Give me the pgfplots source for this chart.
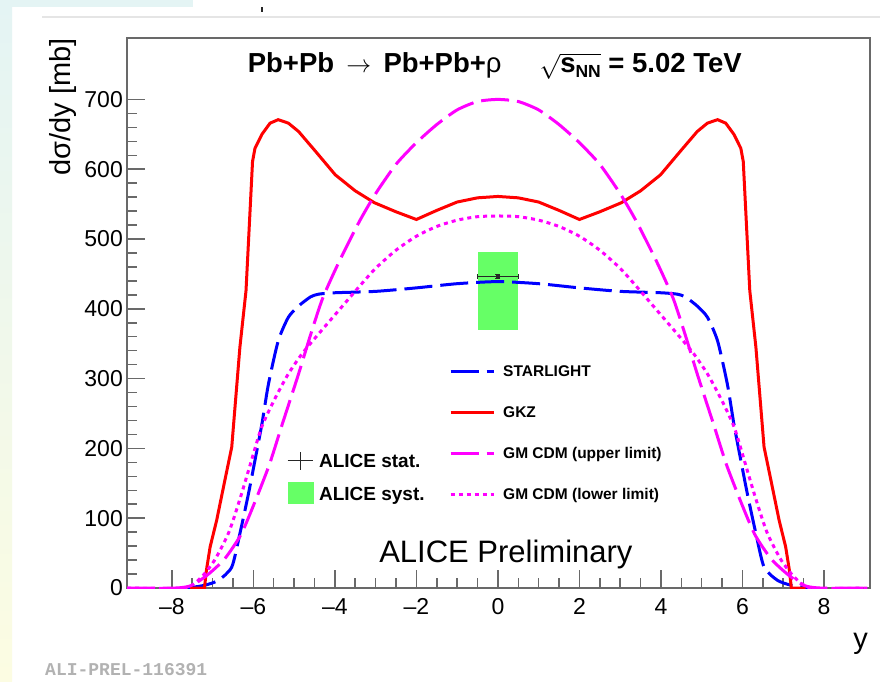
\documentclass[border=0pt]{standalone}
\usepackage{pgfplots}
\usepackage{pgfplotstable}
\pgfplotsset{compat=1.18}
\usepackage{fontspec}
\setmainfont{Liberation Sans}
\newfontfamily\monofont{Liberation Mono}
\definecolor{alicegreen}{RGB}{102,255,102}
\definecolor{framegray}{RGB}{105,105,105}
\definecolor{rblue}{RGB}{0,0,255}
\definecolor{rred}{RGB}{255,0,0}
\definecolor{rmag}{RGB}{255,0,255}
\definecolor{bgcyan}{RGB}{228,244,244}
\definecolor{bgyellow}{RGB}{252,252,226}

\pgfplotstableread{
y v
-7.55 0
-7.20 0
-7.15 26
-7.06 59
-6.90 97
-6.70 154
-6.53 202
-6.33 345
-6.18 426
-6.02 611
-5.96 630
-5.79 650
-5.59 666
-5.39 671
-5.14 666
-4.89 654
-4.48 626
-3.99 592
-3.50 569
-3.03 552
-2.50 539
-2.00 528
-1.50 541
-1.00 553
-0.50 559
0.00 561
0.50 559
1.00 553
1.50 541
2.00 528
2.50 539
3.03 552
3.50 569
3.99 592
4.48 626
4.89 654
5.14 666
5.39 671
5.59 666
5.79 650
5.96 630
6.02 611
6.18 426
6.33 345
6.53 202
6.70 154
6.90 97
7.06 59
7.15 26
7.20 0
7.55 0
}\gkz

\pgfplotstableread{
y v
-7.60 0
-7.19 4
-6.86 11
-6.53 30
-6.33 78
-6.12 135
-5.96 183
-5.79 235
-5.63 292
-5.39 354
-5.14 388
-4.89 404
-4.60 417
-4.40 421
-4.00 423
-3.00 425
-2.00 430
-1.00 436
0.00 439
1.00 436
2.00 430
3.00 425
4.00 423
4.40 421
4.60 417
4.89 404
5.14 388
5.39 354
5.63 292
5.79 235
5.96 183
6.12 135
6.33 78
6.53 30
6.86 11
7.19 4
7.60 0
}\starlight

\pgfplotstableread{
y v
-9.10 0
-7.90 0
-7.50 4
-7.10 20
-6.70 42
-6.30 77
-5.95 125
-5.60 178
-5.30 233
-4.90 305
-4.60 362
-4.30 415
-3.90 467
-3.40 525
-3.00 565
-2.50 607
-2.00 638
-1.50 664
-1.00 685
-0.50 697
0.00 700
0.50 697
1.00 685
1.50 664
2.00 638
2.50 607
3.00 565
3.40 525
3.90 467
4.30 415
4.60 362
4.90 305
5.30 233
5.60 178
5.95 125
6.30 77
6.70 42
7.10 20
7.50 4
7.90 0
9.10 0
}\gmupper

\pgfplotstableread{
y v
-9.10 0
-7.70 0
-7.30 14
-6.95 40
-6.60 80
-6.30 133
-6.05 182
-5.80 230
-5.50 268
-5.15 306
-4.80 336
-4.40 364
-3.90 398
-3.40 432
-3.00 458
-2.50 484
-2.00 504
-1.50 518
-1.00 527
-0.50 532
0.00 533
0.50 532
1.00 527
1.50 518
2.00 504
2.50 484
3.00 458
3.40 432
3.90 398
4.40 364
4.80 336
5.15 306
5.50 268
5.80 230
6.05 182
6.30 133
6.60 80
6.95 40
7.30 14
7.70 0
9.10 0
}\gmlower

\pgfplotsset{
  common/.style={
    scale only axis, width=743pt, height=550pt,
    at={(127pt,93pt)}, anchor=south west,
    xmin=-9.1, xmax=9.13, ymin=0, ymax=788,
  },
}

\begin{document}
\begin{tikzpicture}
\useasboundingbox (0,0) rectangle (880pt,681pt);
\fill[white] (0,0) rectangle (880pt,681pt);
\shade[top color=bgcyan, bottom color=bgyellow] (0,0) rectangle (12pt,681pt);
\fill[bgcyan] (0,674pt) rectangle (193pt,681pt);
\draw[black!10, line width=1.2pt] (42pt,664pt) -- (880pt,664pt);
\fill[black!85] (260.5pt,669pt) rectangle (262.5pt,674pt);
\node[anchor=base west, inner sep=0pt, text=black!30,
      font=\monofont\bfseries\fontsize{18}{18}\selectfont] at (45pt,6pt) {ALI-PREL-116391};

% ALICE data (under the model curves)
\begin{axis}[common, hide axis, clip=false,
  reverse legend,
  legend style={at={(0.2153,0.249)}, anchor=north west, draw=none, fill=none,
    inner sep=0pt, row sep=12pt,
    font=\bfseries\fontsize{19}{19}\selectfont,
    nodes={inner sep=0pt, text height=14pt, text depth=0.4pt}},
  legend cell align=left,
]
\addplot[fill=alicegreen, draw=none,
  legend image code/.code={\fill[alicegreen] (0pt,-11pt) rectangle (26pt,11pt); \path (31pt,0pt);}]
  coordinates {(-0.5,370) (0.5,370) (0.5,482) (-0.5,482)} -- cycle;
\addlegendentry{ALICE syst.}
\addplot[black!85, line width=0.8pt, mark=square*, mark size=1.3pt,
  error bars/.cd, x dir=both, x explicit, y dir=both, y explicit,
  error bar style={line width=0.8pt}, error mark options={rotate=90, mark size=2.5pt, line width=0.8pt},
  /pgfplots/legend image code/.code={\draw[black!85, line width=1pt] (0pt,0pt) -- (25pt,0pt); \draw[black!85, line width=1pt] (12.5pt,-9pt) -- (12.5pt,9pt); \path (31pt,0pt);}]
  coordinates {(0,446) +- (0.5,3)};
\addlegendentry{ALICE stat.}
\end{axis}

% models, frame, ticks
\begin{axis}[common,
  axis line style={framegray, line width=1.5pt},
  tick style={framegray, line width=1.5pt},
  tick align=inside,
  xtick pos=bottom, ytick pos=left,
  major tick length=18pt, minor tick length=10pt,
  xtick={-8,-6,...,8}, xticklabels={–8,–6,–4,–2,0,2,4,6,8},
  ytick={0,100,...,700},
  minor x tick num=3, minor y tick num=4,
  /pgf/number format/assume math mode=true,
  xticklabel style={font=\fontsize{23}{23}\selectfont, anchor=north, inner sep=0pt, yshift=-10pt},
  yticklabel style={font=\fontsize{23}{23}\selectfont, anchor=east, inner sep=0pt, xshift=-4pt},
  every axis x label/.style={at={(rel axis cs:1,0)}, anchor=base east, inner sep=0pt,
    yshift=-60pt, xshift=-2pt, font=\fontsize{29}{29}\selectfont},
  every axis y label/.style={at={(rel axis cs:0,1)}, xshift=-56pt, rotate=90,
    anchor=base east, inner sep=0pt, font=\fontsize{29}{29}\selectfont},
  xlabel={y}, ylabel={dσ/dy [mb]},
  legend style={at={(0.4334,0.4064)}, anchor=north west, draw=none, fill=none,
    inner sep=0pt, row sep=28pt,
    font=\bfseries\fontsize{15.5}{15.5}\selectfont,
    nodes={inner sep=0pt, text height=12pt, text depth=1pt}},
  legend cell align=left,
  legend image code/.code={\draw[#1] (0pt,0pt) -- (43pt,0pt); \path (51pt,0pt);},
]
\addplot[rblue, line width=3pt, dash pattern=on 28pt off 8pt, smooth, tension=0.4] table[x=y, y=v] {\starlight};
\addlegendentry{STARLIGHT}
\addplot[rred, line width=3pt] table[x=y, y=v] {\gkz};
\addlegendentry{GKZ}
\addplot[rmag, line width=3pt, dash pattern=on 28pt off 8pt, smooth, tension=0.4] table[x=y, y=v] {\gmupper};
\addlegendentry{GM CDM (upper limit)}
\addplot[rmag, line width=3pt, dash pattern=on 4pt off 4pt, smooth, tension=0.4] table[x=y, y=v] {\gmlower};
\addlegendentry{GM CDM (lower limit)}

\node[anchor=base, inner sep=0pt, font=\bfseries\fontsize{27.5}{27.5}\selectfont] at (rel axis cs:0.495,0.938)
  {Pb+Pb \,{\mdseries$\rightarrow$}\, Pb+Pb+{\mdseries ρ}\hspace{38pt}{\mdseries$\sqrt{\mbox{\bfseries s\raisebox{-5.5pt}{\fontsize{17.5}{17.5}\selectfont NN}}}$} = 5.02 TeV};
\node[anchor=base, inner sep=0pt, font=\fontsize{31}{31}\selectfont] at (rel axis cs:0.510,0.0455) {ALICE Preliminary};
\end{axis}
\end{tikzpicture}
\end{document}
